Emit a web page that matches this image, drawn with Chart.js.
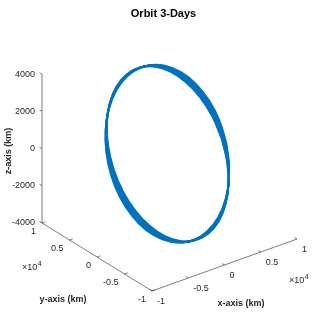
<!DOCTYPE html>
<html>
<head>
<meta charset="utf-8">
<script src="https://cdn.jsdelivr.net/npm/chart.js@4/dist/chart.umd.min.js"></script>
<style>
  html, body { margin: 0; padding: 0; background: #fff; }
  #wrap { position: relative; width: 327px; height: 327px; }
</style>
</head>
<body>
<div id="wrap"><canvas id="chart"></canvas></div>
<script>
// Orbit 3-Days: a 3D orbit plot flattened onto a Chart.js scatter

// Axis ticks (x, y in units of 1e4 km, z in km)
const X_TICKS = [-1, -0.5, 0, 0.5, 1];
const Y_TICKS = [-1, -0.5, 0, 0.5, 1];
const Z_TICKS = [-4000, -2000, 0, 2000, 4000];
const X_TICK_LABELS = ['-1', '-0.5', '0', '0.5', '1'];
const Y_TICK_LABELS = ['-1', '-0.5', '0', '0.5', '1'];
const Z_TICK_LABELS = ['-4000', '-2000', '0', '2000', '4000'];

// One revolution of the orbit, sampled every 15 deg (km)
const ORBIT_X_KM = [6469, 6564, 6192, 5379, 4181, 2678, 974, -816, -2569, -4165, -5498, -6474,
                    -7029, -7124, -6752, -5939, -4741, -3238, -1534, 256, 2009, 3605, 4938, 5914];
const ORBIT_Y_KM = [-1435, 142, 1709, 3159, 4394, 5331, 5903, 6073, 5830, 5189, 4195, 2914,
                    1435, -142, -1709, -3159, -4394, -5331, -5903, -6073, -5830, -5189, -4195, -2914];
const ORBIT_Z_KM = [190, 1082, 1913, 2626, 3174, 3518, 3635, 3518, 3174, 2626, 1913, 1082,
                    190, -702, -1533, -2246, -2794, -3138, -3255, -3138, -2794, -2246, -1533, -702];

// Node drift of the revolutions that make up the 3-day band (deg)
const NODE_SHIFT_DEG = [-5.5, -3.7, -1.8, 0, 1.8, 3.7, 5.5];

// View: screen position of the box corner and axis directions
const VIEW = {
  origin: [152, 291],   // (x=-1, y=-1, z=-4000)
  ex: [72.5, -26],      // per 1e4 km of x
  ey: [-55, -34],       // per 1e4 km of y
  ez: [0, -18.6],       // per 1000 km of z
};

const AXIS_COLOR  = '#262626';
const ORBIT_COLOR = '#0072BD';
const FONT = '"Liberation Sans", Arial, Helvetica, sans-serif';

function project(x, y, z) {
  const dx = x + 1, dy = y + 1, dz = (z + 4000) / 1000;
  return {
    x: VIEW.origin[0] + dx * VIEW.ex[0] + dy * VIEW.ey[0] + dz * VIEW.ez[0],
    y: VIEW.origin[1] + dx * VIEW.ex[1] + dy * VIEW.ey[1] + dz * VIEW.ez[1],
  };
}

function segment(a, b, color, width) {
  return {
    data: [a, b], showLine: true, borderColor: color, borderWidth: width,
    pointRadius: 0, fill: false, tension: 0,
  };
}

const datasets = [];

// ── Axis lines ─────────────────────────────
datasets.push(segment(project(-1, -1, -4000), project(1, -1, -4000), AXIS_COLOR, 0.6));
datasets.push(segment(project(-1, 1, -4000), project(-1, -1, -4000), AXIS_COLOR, 0.6));
datasets.push(segment(project(-1, 1, -4000), project(-1, 1, 4000), AXIS_COLOR, 0.6));

// ── Tick marks ─────────────────────────────
const TICK = 0.045;
X_TICKS.forEach(t => datasets.push(segment(project(t, -1, -4000), project(t, -1 + TICK, -4000), AXIS_COLOR, 0.6)));
Y_TICKS.forEach(t => datasets.push(segment(project(-1, t, -4000), project(-1 + TICK, t, -4000), AXIS_COLOR, 0.6)));
Z_TICKS.forEach(t => datasets.push(segment(project(-1, 1, t), project(-1, 1 + TICK, t), AXIS_COLOR, 0.6)));

// ── Orbit revolutions ──────────────────────
NODE_SHIFT_DEG.forEach(d => {
  const a = d * Math.PI / 180, ca = Math.cos(a), sa = Math.sin(a);
  const pts = ORBIT_X_KM.map((x, i) => {
    const y = ORBIT_Y_KM[i];
    return project((x * ca - y * sa) / 1e4, (x * sa + y * ca) / 1e4, ORBIT_Z_KM[i]);
  });
  pts.push(pts[0]);
  datasets.push({
    data: pts, showLine: true, borderColor: ORBIT_COLOR, borderWidth: 1.9,
    pointRadius: 0, fill: false, tension: 0.4,
  });
});

// ── Text: tick labels, exponents, axis titles, title ──
const axisText = {
  id: 'axisText',
  afterDatasetsDraw(chart) {
    const { ctx, scales } = chart;
    const px = p => [scales.x.getPixelForValue(p.x), scales.y.getPixelForValue(p.y)];
    ctx.save();
    ctx.fillStyle = AXIS_COLOR;
    ctx.font = '9px ' + FONT;
    ctx.textBaseline = 'middle';

    ctx.textAlign = 'right';
    Z_TICKS.forEach((t, i) => {
      const [x, y] = px(project(-1, 1, t));
      ctx.fillText(Z_TICK_LABELS[i], x - 7, y);
    });
    Y_TICKS.forEach((t, i) => {
      const [x, y] = px(project(-1, t, -4000));
      ctx.fillText(Y_TICK_LABELS[i], x - 6, y + 9);
    });
    ctx.textAlign = 'left';
    X_TICKS.forEach((t, i) => {
      const [x, y] = px(project(t, -1, -4000));
      ctx.fillText(X_TICK_LABELS[i], x + 5, y + 11);
    });

    // ×10^4 exponents
    const expo = (x, y) => {
      ctx.font = '9px ' + FONT;
      ctx.textAlign = 'left';
      ctx.fillText('\u00d710', x, y);
      const w = ctx.measureText('\u00d710').width;
      ctx.font = '7px ' + FONT;
      ctx.fillText('4', x + w + 0.5, y - 4);
    };
    const [yx, yy] = px(project(-1, 1, -4000));
    expo(yx - 20, yy + 45);
    const [xx, xy] = px(project(1, -1, -4000));
    expo(xx - 8, xy + 42);

    // axis titles
    ctx.font = 'bold 9px ' + FONT;
    ctx.textAlign = 'center';
    ctx.fillText('y-axis (km)', 63, 300);
    ctx.fillText('x-axis (km)', 241, 304);
    ctx.save();
    ctx.translate(8.5, 151);
    ctx.rotate(-Math.PI / 2);
    ctx.fillText('z-axis (km)', 0, 0);
    ctx.restore();

    ctx.fillStyle = '#000';
    ctx.font = 'bold 11px ' + FONT;
    ctx.fillText('Orbit 3-Days', 163.5, 14);
    ctx.restore();
  },
};

new Chart(document.getElementById('chart'), {
  type: 'scatter',
  data: { datasets },
  options: {
    responsive: true,
    maintainAspectRatio: false,
    animation: false,
    layout: { padding: 0 },
    plugins: { legend: { display: false }, tooltip: { enabled: false }, title: { display: false } },
    scales: {
      x: { type: 'linear', min: 0, max: 327, display: false },
      y: { type: 'linear', min: 0, max: 327, reverse: true, display: false },
    },
  },
  plugins: [axisText],
});
</script>
</body>
</html>
